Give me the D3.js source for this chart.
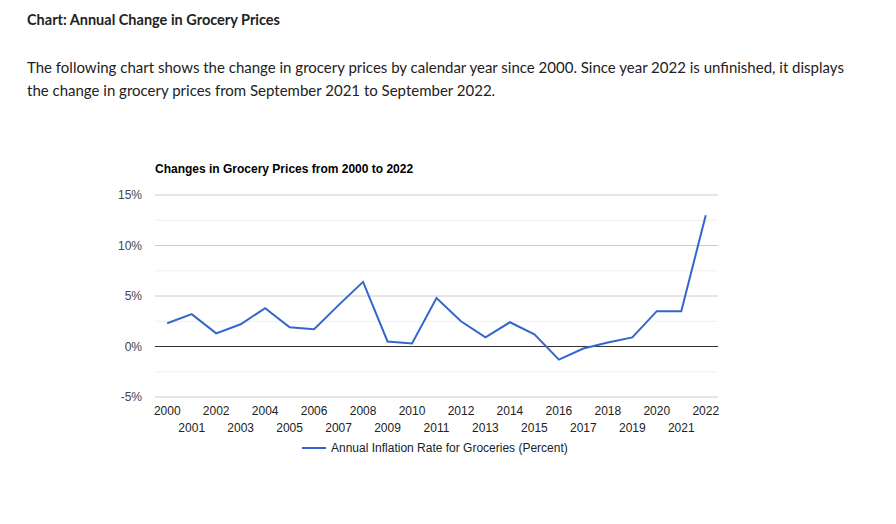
<!DOCTYPE html>
<html><head><meta charset="utf-8">
<script src="https://cdn.jsdelivr.net/npm/d3@7"></script>
<style>
body{margin:0;background:#fff;font-family:Lato,sans-serif;color:#222}
h3{position:absolute;left:27px;top:11px;margin:0;font-size:14.5px;font-weight:700}
p{position:absolute;left:27px;top:56px;margin:0;width:830px;font-size:15px;line-height:23px}
svg{position:absolute;left:0;top:0}
</style></head><body>
<h3>Chart: Annual Change in Grocery Prices</h3>
<p>The following chart shows the change in grocery prices by calendar year since 2000. Since year 2022 is unfinished, it displays the change in grocery prices from September 2021 to September 2022.</p>
<div id="chart"></div>
<script>
var years = d3.range(2000, 2023);
var values = [2.3, 3.2, 1.3, 2.2, 3.8, 1.9, 1.7, 4.1, 6.4, 0.5, 0.3, 4.8, 2.5, 0.9, 2.4, 1.2, -1.3, -0.2, 0.4, 0.9, 3.5, 3.5, 13.0];
var yTicks = [-5, 0, 5, 10, 15];
var minorTicks = [-2.5, 2.5, 7.5, 12.5];

var svg = d3.select("#chart").append("svg").attr("width", 896).attr("height", 524);
var plotLeft = 155, plotRight = 718, plotTop = 195, plotBottom = 397;

var x = d3.scalePoint().domain(years).range([plotLeft, plotRight]).padding(0.5);
var y = d3.scaleLinear().domain([-5, 15]).range([plotBottom, plotTop]);

var g = svg.append("g").attr("font-family", "Arial, Liberation Sans, sans-serif");

g.selectAll(".minor").data(minorTicks).enter().append("line")
  .attr("x1", plotLeft).attr("x2", plotRight).attr("y1", d => y(d)).attr("y2", d => y(d))
  .attr("stroke", "#f0f0f0");
g.selectAll(".major").data(yTicks).enter().append("line")
  .attr("x1", plotLeft).attr("x2", plotRight).attr("y1", d => y(d)).attr("y2", d => y(d))
  .attr("stroke", d => d === 0 ? "#333" : "#ccc");
g.selectAll(".ylab").data(yTicks).enter().append("text")
  .attr("x", plotLeft - 13).attr("y", d => y(d) + 4).attr("text-anchor", "end")
  .attr("font-size", 12).attr("fill", "#444").text(d => d + "%");

g.selectAll(".xlab").data(years).enter().append("text")
  .attr("x", d => x(d)).attr("y", (d, i) => i % 2 ? 432 : 415).attr("text-anchor", "middle")
  .attr("font-size", 12).attr("fill", "#222").text(d => d);

var line = d3.line().x((d, i) => x(years[i])).y(d => y(d));
g.append("path").datum(values).attr("d", line).attr("fill", "none")
  .attr("stroke", "#3366cc").attr("stroke-width", 2);

g.append("text").attr("x", 155).attr("y", 173).attr("font-size", 12).attr("font-weight", "bold")
  .text("Changes in Grocery Prices from 2000 to 2022");

g.append("line").attr("x1", 302).attr("x2", 326).attr("y1", 448).attr("y2", 448)
  .attr("stroke", "#3366cc").attr("stroke-width", 2);
g.append("text").attr("x", 331).attr("y", 452).attr("font-size", 12).attr("fill", "#222")
  .text("Annual Inflation Rate for Groceries (Percent)");
</script>
</body></html>
